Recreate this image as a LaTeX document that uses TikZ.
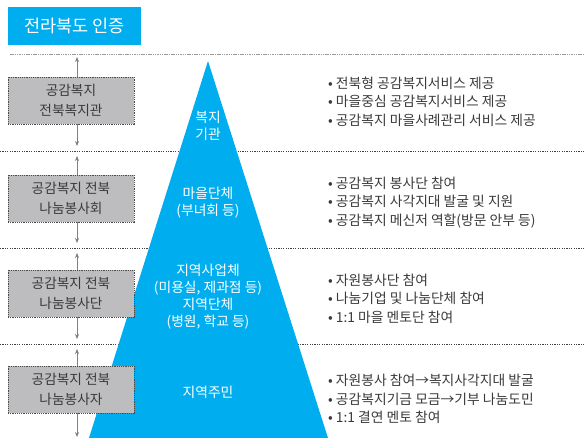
\documentclass[tikz,border=0pt]{standalone}
\usepackage{fontspec}
\setmainfont{Noto Sans CJK KR}
\usetikzlibrary{arrows.meta}
\definecolor{cblue}{HTML}{00AEEF}
\definecolor{boxgray}{HTML}{BDBDBF}
\definecolor{txt}{HTML}{3A3A3A}
\definecolor{lgray}{HTML}{9A9A9A}
\tikzset{
  sep/.style={draw=black!75, line width=0.6pt, dash pattern=on 1.2pt off 1.2pt},
  topsep/.style={draw=lgray, line width=1pt, dash pattern=on 1.5pt off 0.8pt},
  orgbox/.style={draw=black!70, fill=boxgray, line width=0.7pt, dash pattern=on 1.2pt off 1pt,
     minimum width=126pt, minimum height=47pt, inner sep=0pt, align=center,
     text=txt, font=\fontsize{13.7}{19.5}\selectfont},
  arr/.style={draw=black!50, line width=0.7pt, -{Stealth[length=5pt,width=4pt]}},
  tri/.style={text=white, align=center, font=\fontsize{13.8}{17}\selectfont},
  bul/.style={anchor=west, align=left, text=txt, font=\fontsize{13.8}{18.5}\selectfont, inner sep=0pt},
}
\begin{document}
\begin{tikzpicture}[x=1pt,y=-1pt]
\useasboundingbox (0,0) rectangle (584,438);
% title
\node[fill=cblue, text=white, minimum width=133pt, minimum height=38pt, inner sep=0pt,
  font=\fontsize{17.5}{20}\selectfont] (title) at (74.5,26) {전라북도 인증};
% separators
\draw[topsep] (10,55) -- (584,55);
\draw[sep] (0,151) -- (584,151);
\draw[sep] (0,248) -- (584,248);
\draw[sep] (0,344) -- (584,344);
% pyramid
\fill[cblue] (208,61) -- (328,438) -- (89,438) -- cycle;
\node[tri] (p1) at (208,126) {복지\\기관};
\node[tri] (p2) at (208,203) {마을단체\\(부녀회 등)};
\node[tri] (p3) at (208,297) {지역사업체\\(미용실, 제과점 등)\\지역단체\\(병원, 학교 등)};
\node[tri] (p4) at (208,392) {지역주민};
% boxes
\node[orgbox] (b1) at (71,100.5) {공감복지\\전북복지관};
\node[orgbox] (b2) at (71,198.5) {공감복지 전북\\나눔봉사회};
\node[orgbox] (b3) at (71,293.5) {공감복지 전북\\나눔봉사단};
\node[orgbox] (b4) at (71,389.5) {공감복지 전북\\나눔봉사자};
% arrow ends
\coordinate (t0) at (77,57);
\coordinate (d1) at (77,146);
\coordinate (u2) at (77,156);
\coordinate (d2) at (77,243);
\coordinate (u3) at (77,253);
\coordinate (d3) at (77,339);
\coordinate (u4) at (77,349);
\coordinate (d4) at (77,437);
\draw[arr] (b1.north -| t0) -- (t0);
\draw[arr] (b1.south -| d1) -- (d1);
\draw[arr] (b2.north -| u2) -- (u2);
\draw[arr] (b2.south -| d2) -- (d2);
\draw[arr] (b3.north -| u3) -- (u3);
\draw[arr] (b3.south -| d3) -- (d3);
\draw[arr] (b4.north -| u4) -- (u4);
\draw[arr] (b4.south -| d4) -- (d4);
% bullets
\node[bul] (r1) at (328,101.5) {• 전북형 공감복지서비스 제공\\• 마을중심 공감복지서비스 제공\\• 공감복지 마을사례관리 서비스 제공};
\node[bul] (r2) at (328,202.5) {• 공감복지 봉사단 참여\\• 공감복지 사각지대 발굴 및 지원\\• 공감복지 메신저 역할(방문 안부 등)};
\node[bul] (r3) at (328,298.5) {• 자원봉사단 참여\\• 나눔기업 및 나눔단체 참여\\• 1:1 마을 멘토단 참여};
\node[bul] (r4) at (328,399) {• 자원봉사 참여→복지사각지대 발굴\\• 공감복지기금 모금→기부 나눔도민\\• 1:1 결연 멘토 참여};
\end{tikzpicture}
\end{document}
